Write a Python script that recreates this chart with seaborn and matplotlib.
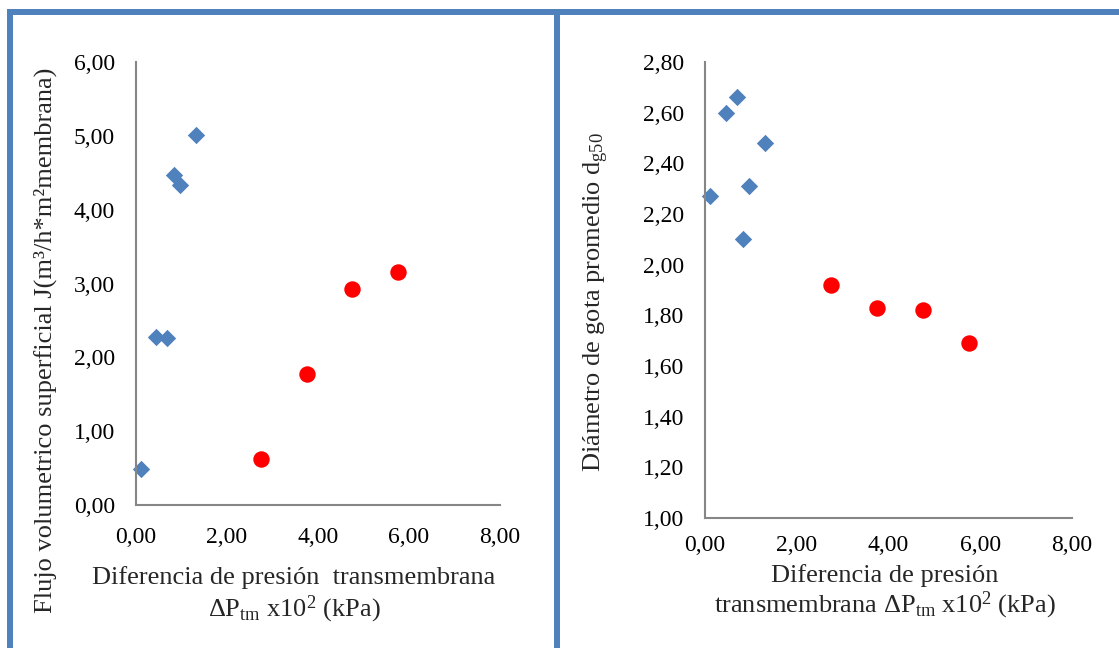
import matplotlib
matplotlib.use("Agg")
import matplotlib.pyplot as plt
from matplotlib.ticker import FuncFormatter
from matplotlib.lines import Line2D
import seaborn as sns

# ---- data ----
blue_x = [0.10, 0.45, 0.69, 0.83, 0.96, 1.31]
flux_blue = [0.49, 2.28, 2.26, 4.47, 4.33, 5.01]
diam_blue = [2.27, 2.60, 2.66, 2.10, 2.31, 2.48]

red_x = [2.75, 3.75, 4.75, 5.75]
flux_red = [0.62, 1.77, 2.93, 3.15]
diam_red = [1.92, 1.83, 1.82, 1.69]

x_ticks = [0, 2, 4, 6, 8]
left_y_ticks = [0, 1, 2, 3, 4, 5, 6]
right_y_ticks = [1.0, 1.2, 1.4, 1.6, 1.8, 2.0, 2.2, 2.4, 2.6, 2.8]

left_ylabel = "Flujo volumetrico superficial J(m³/h*m²membrana)"
right_ylabel = r"Diámetro de gota promedio d$_{\mathrm{g50}}$"
left_xlabel = ["Diferencia de presión  transmembrana", r"ΔP$_{\mathrm{tm}}$ x10$^{2}$ (kPa)"]
right_xlabel = ["Diferencia de presión", r"transmembrana ΔP$_{\mathrm{tm}}$ x10$^{2}$ (kPa)"]

BLUE = "#4F81BD"
RED = "#FF0000"
SPINE = "#868686"
BORDER = "#4F81BD"

sns.set_theme(style="white")
plt.rcParams["font.family"] = ["Liberation Serif", "DejaVu Serif"]
plt.rcParams["mathtext.fontset"] = "custom"
plt.rcParams["mathtext.rm"] = "Liberation Serif"
plt.rcParams["mathtext.it"] = "Liberation Serif:italic"
plt.rcParams["mathtext.bf"] = "Liberation Serif:bold"

W, H = 1119, 648
fig = plt.figure(figsize=(W / 100, H / 100), dpi=100)
fig.patch.set_facecolor("white")

def fx(px):
    return px / W

def fy(py):
    return 1 - py / H

axL = fig.add_axes([fx(136), fy(505), fx(500) - fx(136), fy(62) - fy(505)])
axR = fig.add_axes([fx(705), fy(518), fx(1072) - fx(705), fy(62) - fy(518)])

fmt = FuncFormatter(lambda v, p: f"{v:.2f}".replace(".", ","))
TICK_FS = 17

def style(ax, yticks, ylim):
    ax.set_xlim(0, 8)
    ax.set_ylim(*ylim)
    ax.set_xticks(x_ticks)
    ax.set_yticks(yticks)
    ax.xaxis.set_major_formatter(fmt)
    ax.yaxis.set_major_formatter(fmt)
    for s in ["top", "right"]:
        ax.spines[s].set_visible(False)
    for s in ["left", "bottom"]:
        ax.spines[s].set_color(SPINE)
        ax.spines[s].set_linewidth(1.5)
    ax.tick_params(axis="both", length=0, labelsize=TICK_FS, colors="black")
    ax.tick_params(axis="y", pad=15)
    ax.tick_params(axis="x", pad=16)
    ax.set_xlabel("")
    ax.set_ylabel("")
    ax.grid(False)

D_SIZE = 78
O_SIZE = 140

sns.scatterplot(x=blue_x, y=flux_blue, ax=axL, marker="D", color=BLUE, s=D_SIZE,
                edgecolor=BLUE, linewidth=0, clip_on=False)
sns.scatterplot(x=red_x, y=flux_red, ax=axL, marker="o", color=RED, s=O_SIZE,
                edgecolor=RED, linewidth=0, clip_on=False)
style(axL, left_y_ticks, (0, 6))

sns.scatterplot(x=blue_x, y=diam_blue, ax=axR, marker="D", color=BLUE, s=D_SIZE,
                edgecolor=BLUE, linewidth=0, clip_on=False)
sns.scatterplot(x=red_x, y=diam_red, ax=axR, marker="o", color=RED, s=O_SIZE,
                edgecolor=RED, linewidth=0, clip_on=False)
style(axR, right_y_ticks, (1.0, 2.8))
axR.tick_params(axis="x", pad=12)

LAB_FS = 19
fig.text(fx(45), fy(340), left_ylabel, rotation=90, ha="center", va="center", fontsize=LAB_FS)
fig.text(fx(596), fy(302), right_ylabel, rotation=90, ha="center", va="center", fontsize=LAB_FS)
fig.text(fx(294), fy(578), left_xlabel[0], ha="center", va="center", fontsize=LAB_FS)
fig.text(fx(294), fy(609), left_xlabel[1], ha="center", va="center", fontsize=LAB_FS)
fig.text(fx(885), fy(576), right_xlabel[0], ha="center", va="center", fontsize=LAB_FS)
fig.text(fx(885), fy(605), right_xlabel[1], ha="center", va="center", fontsize=LAB_FS)

# panel borders
lw = 6 * 72 / 100
fig.add_artist(Line2D([fx(7), 1.0], [fy(12), fy(12)], color=BORDER, lw=lw, solid_capstyle="butt"))
fig.add_artist(Line2D([fx(10), fx(10)], [fy(9), 0.0], color=BORDER, lw=lw, solid_capstyle="butt"))
fig.add_artist(Line2D([fx(557), fx(557)], [fy(9), 0.0], color=BORDER, lw=lw, solid_capstyle="butt"))

fig.savefig("out.png", dpi=100, facecolor="white")
